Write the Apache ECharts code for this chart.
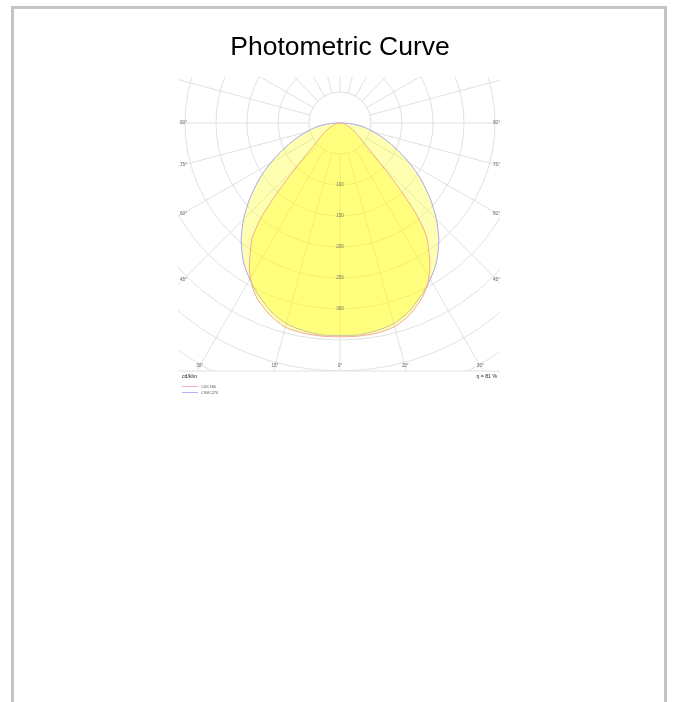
<!DOCTYPE html>
<html><head><meta charset="utf-8">
<script src="https://cdn.jsdelivr.net/npm/echarts@6/dist/echarts.min.js"></script>
<style>
html,body{margin:0;padding:0;background:#fff;}
#frame{position:absolute;left:11px;top:6px;width:650px;height:720px;border:3px solid #c4c4c4;border-bottom:none;z-index:2;pointer-events:none;}
#chart{position:absolute;left:0;top:0;width:673px;height:702px;z-index:1;}
</style></head><body>
<div id="chart"></div>
<div id="frame"></div>
<script>
// ---- data (cd/klm) ----
const angles = [0, 5, 10, 15, 20, 25, 27.5, 30, 32.5, 35, 37.5, 40, 42.5, 45, 47.5, 50, 55, 60, 65, 70, 75, 80, 85, 90, 180];
const c0   = [345, 345, 344, 340, 329, 312, 301, 287, 270, 249, 228, 190, 136, 92, 66, 51, 36, 26, 19, 13, 9, 5, 2, 0, 0];
const c180 = [345, 345, 344, 341, 330, 314, 303, 289, 272, 252, 232, 195, 140, 95, 68, 52, 37, 27, 19, 13, 9, 5, 2, 0, 0];
const c90  = [343, 343, 340, 335, 324, 308, 300, 291, 282, 272, 260, 248, 234, 220, 205, 190, 160, 130, 102, 78, 57, 40, 22, 3, 0];
const c270 = [343, 343, 340, 335, 324, 308, 300, 291, 282, 272, 260, 248, 234, 220, 205, 190, 160, 130, 102, 78, 57, 40, 22, 3, 0];
const ringLabels = [100, 150, 200, 250, 300];
const angleLabels = [0, 15, 30, 45, 60, 75, 90];
const seriesNames = ['C0/C180', 'C90/C270'];
const unitText = 'cd/klm';
const etaText = 'η = 81 %';
const titleText = 'Photometric Curve';

// ---- layout ----
const CX = 340, CY = 123, R = 310, RMAX = 500;
const CLIP = {x: 178, y: 77, w: 322, h: 294};
const FONT = '"Liberation Sans", Arial, sans-serif';

function loop(left, right) {
  const pts = [];
  for (let i = 0; i < angles.length; i++) pts.push([left[i], angles[i]]);
  for (let i = angles.length - 1; i >= 0; i--) pts.push([right[i], 360 - angles[i]]);
  return pts;
}

const chart = echarts.init(document.getElementById('chart'), null, {renderer: 'canvas'});

const g = [];
// masks outside the clip rectangle
g.push({type: 'rect', z: 50, silent: true, shape: {x: 0, y: 0, width: 673, height: CLIP.y}, style: {fill: '#fff'}});
g.push({type: 'rect', z: 50, silent: true, shape: {x: 0, y: CLIP.y + CLIP.h, width: 673, height: 702}, style: {fill: '#fff'}});
g.push({type: 'rect', z: 50, silent: true, shape: {x: 0, y: 0, width: CLIP.x, height: 702}, style: {fill: '#fff'}});
g.push({type: 'rect', z: 50, silent: true, shape: {x: CLIP.x + CLIP.w, y: 0, width: 200, height: 702}, style: {fill: '#fff'}});
// bottom separator
g.push({type: 'line', z: 60, silent: true, shape: {x1: CLIP.x, y1: CLIP.y + CLIP.h, x2: CLIP.x + CLIP.w, y2: CLIP.y + CLIP.h}, style: {stroke: '#e2e2e2', lineWidth: 1}});
// title
g.push({type: 'text', z: 100, x: 340, y: 48, style: {text: titleText, font: '26.5px ' + FONT, fill: '#000', align: 'center', verticalAlign: 'middle'}});
// angle labels at the clip edges
const BOTTOM_Y = 366, SIDE_DX = 156.5;
angleLabels.forEach(a => {
  [-1, 1].forEach(side => {
    if (a === 0 && side === 1) return;
    const rad = a * Math.PI / 180, sx = Math.sin(rad), cy = Math.cos(rad);
    let x, y;
    const tb = cy > 1e-6 ? (BOTTOM_Y - CY) / cy : Infinity;
    if (tb * sx <= 150) { x = CX + side * tb * sx; y = BOTTOM_Y; }
    else { x = CX + side * SIDE_DX; y = CY + SIDE_DX / sx * cy; }
    g.push({type: 'text', z: 100, silent: true, x: x, y: y, style: {text: a + '°', font: '4.6px ' + FONT, fill: '#666', align: 'center', verticalAlign: 'middle'}});
  });
});
// unit and efficiency
g.push({type: 'text', z: 100, x: 182, y: 377, style: {text: unitText, font: '5.2px ' + FONT, fill: '#222', align: 'left', verticalAlign: 'middle'}});
g.push({type: 'text', z: 100, x: 497, y: 377, style: {text: etaText, font: '5.2px ' + FONT, fill: '#222', align: 'right', verticalAlign: 'middle'}});
// legend
const legColors = ['#f6b0b0', '#b4b4f0'];
seriesNames.forEach((n, i) => {
  const y = 386.5 + i * 6;
  g.push({type: 'line', z: 100, silent: true, shape: {x1: 182, y1: y, x2: 198, y2: y}, style: {stroke: legColors[i], lineWidth: 1}});
  g.push({type: 'text', z: 100, x: 201, y: y, style: {text: n, font: '3.8px ' + FONT, fill: '#555', align: 'left', verticalAlign: 'middle'}});
});

const gridLine = {show: true, lineStyle: {color: '#e0e0e0', width: 1}};
const option = {
  animation: false,
  backgroundColor: 'transparent',
  polar: [
    {center: [CX, CY], radius: [R * 50 / RMAX, R]},
    {center: [CX, CY], radius: [0, R]}
  ],
  angleAxis: [
    {polarIndex: 0, type: 'value', min: 0, max: 360, interval: 15, startAngle: 270, clockwise: true,
     axisLine: {show: false}, axisTick: {show: false}, axisLabel: {show: false}, splitLine: gridLine},
    {polarIndex: 1, type: 'value', min: 0, max: 360, startAngle: 270, clockwise: true,
     axisLine: {show: false}, axisTick: {show: false}, axisLabel: {show: false}, splitLine: {show: false}}
  ],
  radiusAxis: [
    {polarIndex: 0, type: 'value', min: 50, max: RMAX, interval: 50,
     axisLine: {show: false}, axisTick: {show: false}, axisLabel: {show: false}, splitLine: gridLine},
    {polarIndex: 1, type: 'value', min: 0, max: RMAX,
     axisLine: {show: false}, axisTick: {show: false}, axisLabel: {show: false}, splitLine: {show: false}}
  ],
  series: [
    {name: seriesNames[1], type: 'line', coordinateSystem: 'polar', polarIndex: 1, data: loop(c270, c90),
     symbol: 'none', smooth: 0.25, z: 3,
     lineStyle: {color: '#a6a6ee', width: 1}, areaStyle: {color: '#ffff00', opacity: 0.3}},
    {name: seriesNames[0], type: 'line', coordinateSystem: 'polar', polarIndex: 1, data: loop(c180, c0),
     symbol: 'none', smooth: 0.25, z: 4,
     lineStyle: {color: '#f3a090', width: 0.9}, areaStyle: {color: '#ffff00', opacity: 0.3}},
    {type: 'scatter', coordinateSystem: 'polar', polarIndex: 1, symbolSize: 0, z: 6,
     data: ringLabels.map(v => [v, 0]),
     label: {show: true, position: 'inside', formatter: p => String(p.value[0]), fontSize: 4.6, color: '#555', fontFamily: 'Liberation Sans'}}
  ],
  graphic: {elements: g}
};
chart.setOption(option);
</script>
</body></html>
